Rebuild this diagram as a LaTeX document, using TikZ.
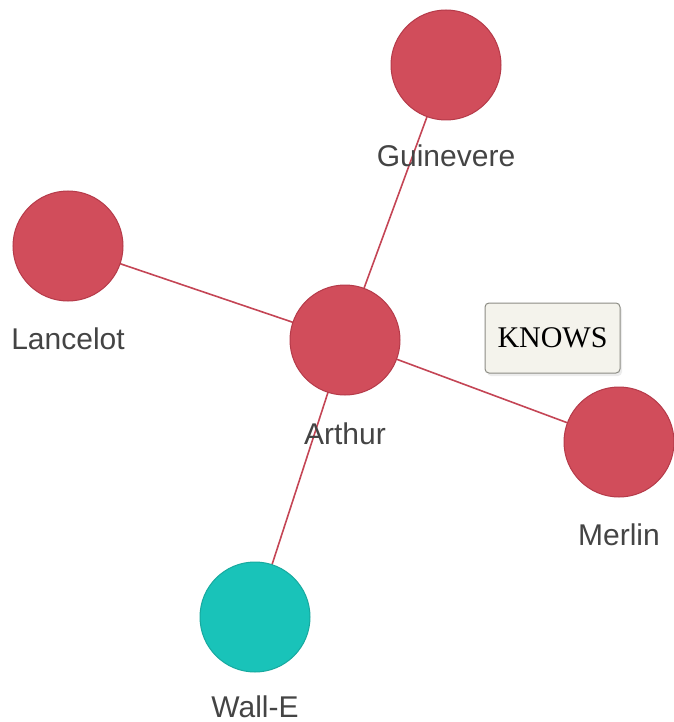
\documentclass[tikz,border=0pt]{standalone}
\usepackage{fontspec}
\setmainfont{Liberation Sans}
\newfontfamily\boxfont{Liberation Serif}
\usetikzlibrary{shadows}
\definecolor{redfill}{HTML}{D14D5B}
\definecolor{redline}{HTML}{B53A49}
\definecolor{edgecol}{HTML}{C44555}
\definecolor{tealfill}{HTML}{19C3B9}
\definecolor{tealline}{HTML}{17A99F}
\definecolor{labelcol}{HTML}{444444}
\definecolor{boxfill}{HTML}{F4F3EC}
\definecolor{boxline}{HTML}{8C8C84}
\tikzset{
  person/.style={circle, minimum size=110pt, inner sep=0pt, fill=redfill, draw=redline, line width=1pt},
  robot/.style={circle, minimum size=110pt, inner sep=0pt, fill=tealfill, draw=tealline, line width=1pt},
  rel/.style={draw=edgecol, line width=1.6pt},
  lbl/.style={text=labelcol, font=\fontsize{30}{34}\selectfont, inner sep=0pt, anchor=base},
  tip/.style={draw=boxline, fill=boxfill, rounded corners=4pt, line width=1pt, minimum width=135pt, minimum height=70pt, font=\boxfont\fontsize{30}{34}\selectfont, drop shadow={opacity=0.15, shadow xshift=2pt, shadow yshift=-3pt}}
}
\begin{document}
\begin{tikzpicture}[x=1pt,y=-1pt]
\useasboundingbox (0,0) rectangle (673,722);
\coordinate (cg) at (446,65);
\coordinate (cl) at (68,246);
\coordinate (ca) at (345,340);
\coordinate (cm) at (619,442);
\coordinate (cw) at (255,617);
\draw[rel] (ca) -- (cg);
\draw[rel] (ca) -- (cl);
\draw[rel] (ca) -- (cm);
\draw[rel] (ca) -- (cw);
\node[person] (guinevere) at (cg) {};
\node[person] (lancelot) at (cl) {};
\node[person] (arthur) at (ca) {};
\node[person] (merlin) at (cm) {};
\node[robot] (walle) at (cw) {};
\node[lbl] (lg) at (446,167) {Guinevere};
\node[lbl] (ll) at (68,349) {Lancelot};
\node[lbl] (la) at (345,444) {Arthur};
\node[lbl] (lm) at (619,545) {Merlin};
\node[lbl] (lw) at (255,717) {Wall-E};
\node[tip] (knows) at (552.5,338) {KNOWS};
\end{tikzpicture}
\end{document}
